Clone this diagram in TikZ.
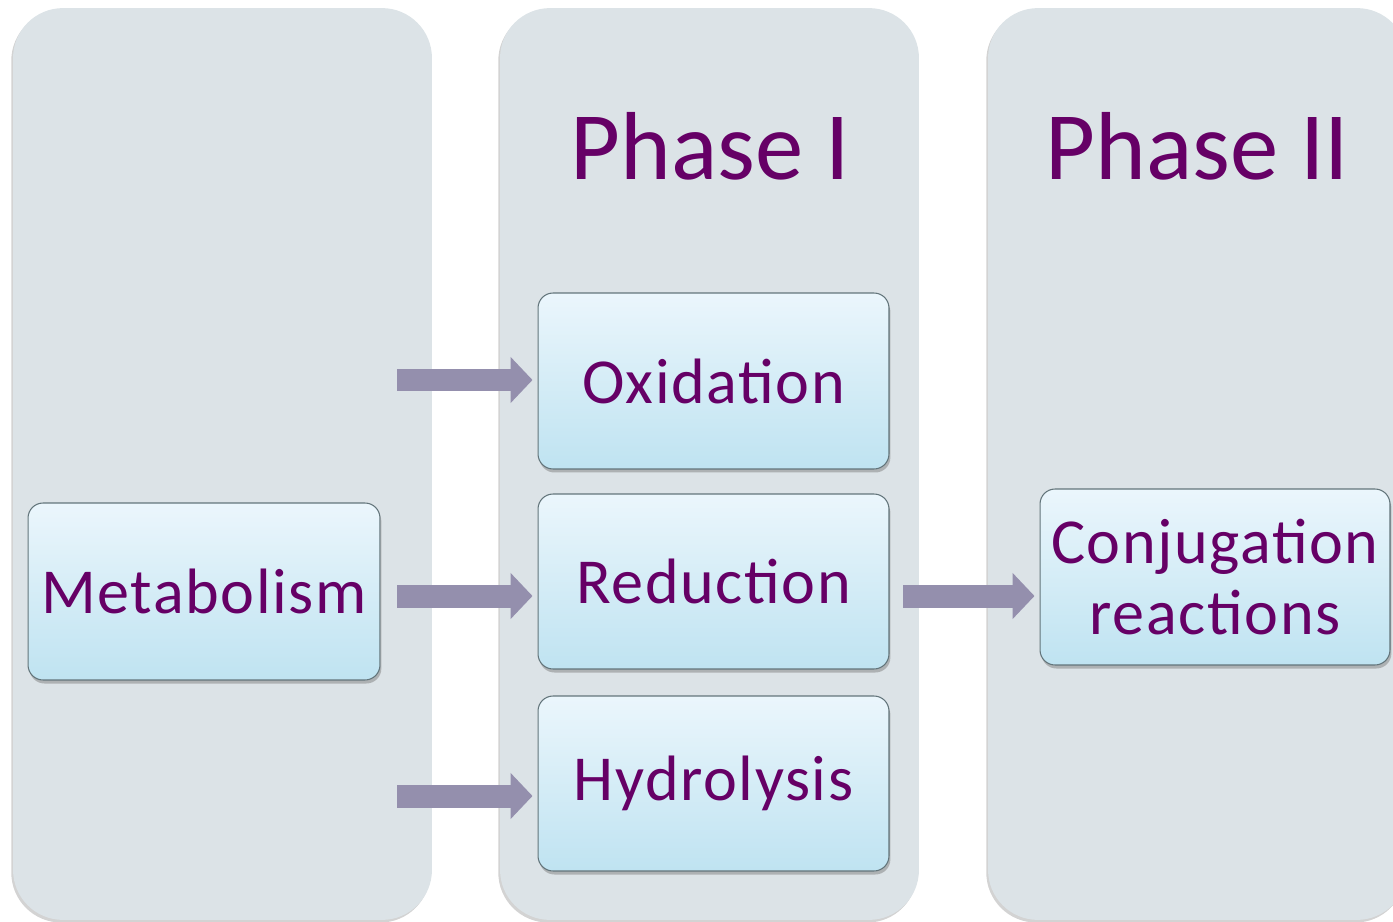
\documentclass[tikz,border=0pt]{standalone}
\usepackage{fontspec}
\setmainfont{Carlito}
\usetikzlibrary{arrows.meta, shadows}

\definecolor{panelgray}{HTML}{DCE3E7}
\definecolor{boxtop}{HTML}{EBF6FC}
\definecolor{boxbot}{HTML}{BFE3F1}
\definecolor{boxline}{HTML}{63757B}
\definecolor{textpurple}{HTML}{660066}
\definecolor{arrowgray}{HTML}{948FAD}

\begin{document}
\begin{tikzpicture}[x=0.02cm, y=-0.02cm]

\tikzset{panel/.style = {rounded corners=1cm, fill=panelgray, minimum width=8.38cm, minimum height=18.24cm,
  drop shadow={shadow xshift=-1pt, shadow yshift=-1.5pt, opacity=0.35, fill=gray}}}
\tikzset{box/.style = {rounded corners=0.3cm, draw=boxline, line width=0.6pt, top color=boxtop, bottom color=boxbot,
  minimum width=7.02cm, minimum height=3.52cm, text=textpurple, align=center,
  font=\fontsize{36.5}{40}\selectfont\addfontfeature{LetterSpace=2.5},
  drop shadow={shadow xshift=0.8pt, shadow yshift=-2pt, opacity=0.5, fill=gray}}}
\tikzset{title/.style = {text=textpurple, anchor=base, font=\fontsize{55}{60}\selectfont}}
\tikzset{flow/.style = {draw=arrowgray, line width=0.46cm, -{Triangle[length=0.44cm, width=0.9cm]}}}

\useasboundingbox (0,0) rectangle (1393,922);
\clip (0,0) rectangle (1393,922);

%panels
\node[panel] (p1) at (222.5,464) {};
\node[panel] (p2) at (709.5,464) {};
\node[panel] (p3) at (1197.5,464) {};
\node[title] (t1) at (710,180) {Phase I};
\node[title] (t2) at (1197,180) {Phase II};
%boxes
\node[box, minimum width=7.04cm, minimum height=3.54cm] (metab) at (204,591.5) {Metabolism};
\node[box] (ox) at (713.5,381) {Oxidation};
\node[box, minimum height=3.5cm] (red) at (713.5,581.5) {Reduction};
\node[box, minimum height=3.5cm] (hyd) at (713.5,783.5) {Hydrolysis};
\node[box, minimum width=7cm] (conj) at (1215,577) {Conjugation\\reactions};
%arrows
\coordinate (a1) at (397,380);
\coordinate (a2) at (397,596);
\coordinate (a3) at (397,796);
\coordinate (a4) at (903,596);
\draw[flow, shorten >=0.1cm] (a1) -- (a1 -| ox.west);
\draw[flow, shorten >=0.1cm] (a2) -- (a2 -| red.west);
\draw[flow, shorten >=0.1cm] (a3) -- (a3 -| hyd.west);
\draw[flow, shorten >=0.1cm] (a4) -- (a4 -| conj.west);

\end{tikzpicture}
\end{document}
